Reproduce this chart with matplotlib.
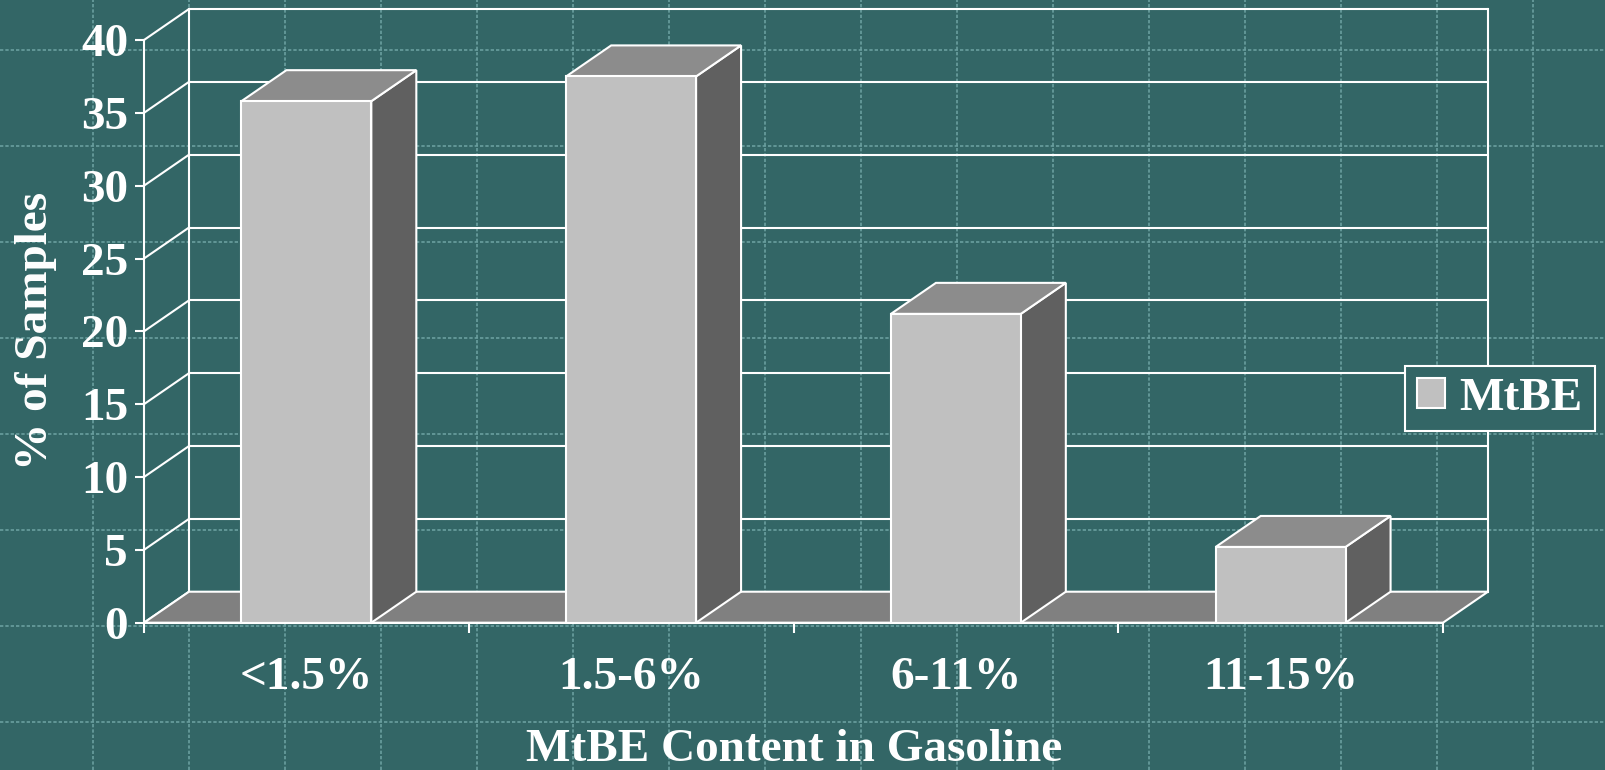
import numpy as np
import matplotlib
matplotlib.use("Agg")
import matplotlib.pyplot as plt
from matplotlib.patches import Polygon, Rectangle, Patch

# ---- data ----
categories = ["<1.5%", "1.5-6%", "6-11%", "11-15%"]
values = [35.8, 37.5, 21.2, 5.2]
series_name = "MtBE"
y_ticks = [0, 5, 10, 15, 20, 25, 30, 35, 40]
x_title = "MtBE Content in Gasoline"
y_title = "% of Samples"

# ---- style ----
BG = "#336666"
GRID_BG = "#6a9f9f"
FRONT = "#c0c0c0"
TOP = "#8c8c8c"
SIDE = "#606060"
FLOOR = "#808080"
WHITE = "white"
FONT = "Liberation Serif"
FS = 34
LW = 1.5

W_PX, H_PX, DPI = 1605, 770, 100
fig = plt.figure(figsize=(W_PX / DPI, H_PX / DPI), dpi=DPI)
fig.patch.set_facecolor(BG)

# background dashed grid
bg = fig.add_axes([0, 0, 1, 1], zorder=0)
bg.set_facecolor(BG)
bg.set_xlim(0, W_PX)
bg.set_ylim(H_PX, 0)
bg.set_xticks(np.arange(93, W_PX, 96))
bg.set_yticks(np.arange(50, H_PX, 96))
bg.grid(True, color=GRID_BG, linestyle=(0, (2, 1.2)), linewidth=1.2)
bg.tick_params(length=0, labelbottom=False, labelleft=False)
for s in bg.spines.values():
    s.set_visible(False)

# main axes (front plane)
left, right = 144 / W_PX, 1443 / W_PX
bottom, top = (H_PX - 622.7) / H_PX, (H_PX - 40) / H_PX
ax = fig.add_axes([left, bottom, right - left, top - bottom], zorder=1)
ax.set_facecolor("none")
n = len(categories)
ax.set_xlim(0, n)
ax.set_ylim(0, 40)

# depth offset in data units
ax_w_px = (right - left) * W_PX
ax_h_px = (top - bottom) * H_PX
DX = 45 / (ax_w_px / n)
DY = 31 / (ax_h_px / 40)

# back wall + side wall lines
for t in y_ticks:
    if t > 0:
        ax.plot([DX, n + DX], [t + DY, t + DY], color=WHITE, lw=LW, zorder=1, clip_on=False,
                solid_capstyle="butt")
    ax.plot([0, DX], [t, t + DY], color=WHITE, lw=LW, zorder=1, clip_on=False)
ax.plot([DX, DX], [DY, 40 + DY], color=WHITE, lw=LW, zorder=1, clip_on=False)
ax.plot([n + DX, n + DX], [DY, 40 + DY], color=WHITE, lw=LW, zorder=1, clip_on=False)

# floor
floor = Polygon([[0, 0], [n, 0], [n + DX, DY], [DX, DY]], closed=True,
                facecolor=FLOOR, edgecolor=WHITE, lw=LW, zorder=2, clip_on=False)
ax.add_patch(floor)

# bars
bw = 0.4
for i, v in enumerate(values):
    c = i + 0.5
    x0, x1 = c - bw / 2, c + bw / 2
    side = Polygon([[x1, 0], [x1 + DX, DY], [x1 + DX, v + DY], [x1, v]], closed=True,
                   facecolor=SIDE, edgecolor=WHITE, lw=LW, zorder=3, clip_on=False,
                   joinstyle="miter")
    topf = Polygon([[x0, v], [x1, v], [x1 + DX, v + DY], [x0 + DX, v + DY]], closed=True,
                   facecolor=TOP, edgecolor=WHITE, lw=LW, zorder=3, clip_on=False,
                   joinstyle="miter")
    front = Rectangle((x0, 0), bw, v, facecolor=FRONT, edgecolor=WHITE, lw=LW,
                      zorder=4, clip_on=False, joinstyle="miter")
    ax.add_patch(side)
    ax.add_patch(topf)
    ax.add_patch(front)

# axes styling
for s in ["top", "right"]:
    ax.spines[s].set_visible(False)
for s in ["left", "bottom"]:
    ax.spines[s].set_color(WHITE)
    ax.spines[s].set_linewidth(LW)
    ax.spines[s].set_zorder(5)

ax.set_yticks(y_ticks)
ax.set_yticklabels([str(t) for t in y_ticks])
ax.tick_params(axis="y", direction="out", length=6.5, width=LW, color=WHITE,
               labelcolor=WHITE, labelsize=FS, pad=5)
ax.set_xticks(np.arange(0, n + 1))
ax.set_xticklabels([])
ax.set_xticks(np.arange(n) + 0.5, minor=True)
ax.set_xticklabels(categories, minor=True)
ax.tick_params(axis="x", which="major", direction="out", length=7.2, width=LW, color=WHITE)
ax.tick_params(axis="x", which="minor", length=0, labelcolor=WHITE, labelsize=FS, pad=25)
for lab in ax.get_yticklabels() + ax.get_xticklabels(minor=True):
    lab.set_fontfamily(FONT)
    lab.set_fontweight("bold")

# titles
fig.text(794.5 / W_PX, 1 - 761 / H_PX, x_title, ha="center", va="baseline",
         fontsize=FS, fontweight="bold", fontfamily=FONT, color=WHITE)
fig.text(36 / W_PX, 1 - 331 / H_PX, y_title, ha="center", va="center", rotation=90,
         fontsize=FS, fontweight="bold", fontfamily=FONT, color=WHITE)

# legend
handle = Patch(facecolor=FRONT, edgecolor=WHITE, lw=LW, label=series_name)
leg = ax.legend(handles=[handle], loc="center",
                bbox_to_anchor=(1500 / W_PX, 1 - 398.5 / H_PX),
                bbox_transform=fig.transFigure,
                prop={"family": FONT, "weight": "bold", "size": FS},
                frameon=True, fancybox=False, framealpha=1,
                facecolor=BG, edgecolor=WHITE,
                handlelength=0.6, handleheight=0.6, handletextpad=0.3,
                borderpad=0.25, borderaxespad=0)
leg.get_frame().set_linewidth(LW)
leg.set_zorder(10)
for t in leg.get_texts():
    t.set_color(WHITE)

fig.savefig("out.png", dpi=DPI, facecolor=BG)
